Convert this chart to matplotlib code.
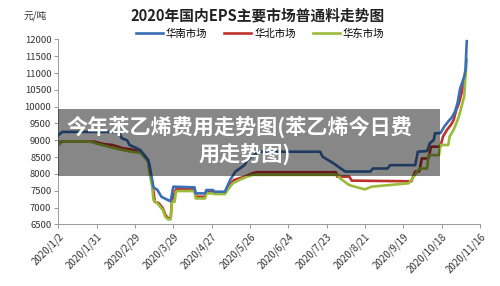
import matplotlib
matplotlib.use("Agg")
import matplotlib.pyplot as plt
import pandas as pd
from matplotlib.patches import Rectangle

plt.rcParams['font.family'] = ['Noto Sans CJK SC', 'DejaVu Sans']

# 华南市场 (date, 元/吨)
south_dates = ['2020-01-02', '2020-01-05', '2020-02-17', '2020-02-19', '2020-02-23', '2020-02-25',
               '2020-03-01', '2020-03-04', '2020-03-07', '2020-03-10', '2020-03-11', '2020-03-13',
               '2020-03-14', '2020-03-17', '2020-03-20', '2020-03-26', '2020-03-27', '2020-03-29',
               '2020-04-14', '2020-04-15', '2020-04-22', '2020-04-23', '2020-04-28', '2020-04-29',
               '2020-05-07', '2020-05-11', '2020-05-15', '2020-05-19', '2020-05-22', '2020-05-24',
               '2020-05-27', '2020-05-31', '2020-06-02', '2020-07-18', '2020-07-20', '2020-07-28',
               '2020-08-06', '2020-08-25', '2020-08-27', '2020-09-07', '2020-09-09', '2020-09-28',
               '2020-09-30', '2020-10-07', '2020-10-09', '2020-10-12', '2020-10-13', '2020-10-17',
               '2020-10-20', '2020-10-23', '2020-10-26', '2020-10-28', '2020-10-30', '2020-11-01',
               '2020-11-02', '2020-11-04', '2020-11-05', '2020-11-06']
south_vals = [9150, 9250, 9250, 9060, 9000, 8860,
              8770, 8710, 8560, 8410, 8260, 7820,
              7600, 7520, 7320, 7200, 7190, 7620,
              7600, 7420, 7420, 7520, 7520, 7470,
              7470, 7820, 8070, 8180, 8270, 8410,
              8510, 8610, 8660, 8660, 8510, 8320,
              8070, 8070, 8160, 8160, 8260, 8260,
              8660, 8680, 8910, 9010, 9210, 9210,
              9410, 9560, 9700, 9850, 10100, 10550,
              10650, 10890, 11090, 11950]

# 华北市场
north_dates = ['2020-01-02', '2020-01-04', '2020-01-29', '2020-02-05', '2020-02-12', '2020-02-20',
               '2020-02-26', '2020-03-04', '2020-03-07', '2020-03-10', '2020-03-11', '2020-03-13',
               '2020-03-14', '2020-03-15', '2020-03-18', '2020-03-21', '2020-03-23', '2020-03-25',
               '2020-03-27', '2020-03-28', '2020-03-31', '2020-04-14', '2020-04-15', '2020-04-22',
               '2020-04-23', '2020-04-28', '2020-04-29', '2020-05-07', '2020-05-10', '2020-05-14',
               '2020-05-22', '2020-05-28', '2020-05-31', '2020-07-30', '2020-07-31', '2020-08-09',
               '2020-08-11', '2020-09-25', '2020-09-28', '2020-10-01', '2020-10-03', '2020-10-08',
               '2020-10-10', '2020-10-17', '2020-10-19', '2020-10-22', '2020-10-25', '2020-10-27',
               '2020-10-29', '2020-10-31', '2020-11-02', '2020-11-04']
north_vals = [8900, 8960, 8960, 8890, 8860, 8760,
              8730, 8660, 8560, 8410, 8110, 7770,
              7470, 7170, 7130, 6980, 6780, 6680,
              6680, 7220, 7540, 7540, 7320, 7320,
              7470, 7470, 7420, 7420, 7670, 7820,
              7920, 8020, 8050, 8050, 7920, 7920,
              7800, 7780, 8070, 8070, 8460, 8460,
              8810, 8810, 9110, 9310, 9460, 9600,
              9900, 10100, 10400, 10750]

# 华东市场
east_dates = ['2020-01-02', '2020-01-05', '2020-01-26', '2020-02-01', '2020-02-09', '2020-02-14',
              '2020-02-20', '2020-02-26', '2020-03-04', '2020-03-07', '2020-03-10', '2020-03-11',
              '2020-03-13', '2020-03-14', '2020-03-17', '2020-03-21', '2020-03-23', '2020-03-25',
              '2020-03-27', '2020-03-28', '2020-03-30', '2020-03-31', '2020-04-01', '2020-04-14',
              '2020-04-15', '2020-04-22', '2020-04-23', '2020-04-28', '2020-04-29', '2020-05-07',
              '2020-05-10', '2020-05-13', '2020-05-18', '2020-05-24', '2020-05-28', '2020-06-01',
              '2020-08-01', '2020-08-02', '2020-08-09', '2020-08-15', '2020-08-21', '2020-08-26',
              '2020-09-09', '2020-09-23', '2020-09-27', '2020-10-01', '2020-10-07', '2020-10-08',
              '2020-10-16', '2020-10-17', '2020-10-23', '2020-10-24', '2020-10-27', '2020-10-29',
              '2020-10-31', '2020-11-02', '2020-11-04', '2020-11-05', '2020-11-06']
east_vals = [8850, 8960, 8960, 8890, 8810, 8760,
             8710, 8660, 8630, 8510, 8360, 8020,
             7620, 7220, 7120, 6930, 6720, 6650,
             6650, 7170, 7170, 7470, 7490, 7490,
             7270, 7270, 7420, 7420, 7400, 7400,
             7570, 7720, 7820, 7920, 7970, 7970,
             7970, 7870, 7670, 7600, 7540, 7620,
             7670, 7720, 7920, 8160, 8160, 8560,
             8560, 8860, 8860, 9110, 9310, 9500,
             9700, 10000, 10300, 10890, 11400]

tick_dates = ['2020/1/2', '2020/1/31', '2020/2/29', '2020/3/29', '2020/4/27', '2020/5/26',
              '2020/6/24', '2020/7/23', '2020/8/21', '2020/9/19', '2020/10/18', '2020/11/16']
y_ticks = [6500, 7000, 7500, 8000, 8500, 9000, 9500, 10000, 10500, 11000, 11500, 12000]

fig = plt.figure(figsize=(5.0, 2.86), dpi=100)
ax = fig.add_axes([0.1166, 0.2157, 0.8434, 0.6463])

ax.plot(pd.to_datetime(south_dates), south_vals, color='#3A6EB5', lw=1.9, label='华南市场', zorder=3)
ax.plot(pd.to_datetime(north_dates), north_vals, color='#C0302A', lw=1.9, label='华北市场', zorder=2)
ax.plot(pd.to_datetime(east_dates), east_vals, color='#9BBB3A', lw=1.9, label='华东市场', zorder=2)

ticks = pd.to_datetime(tick_dates, format='%Y/%m/%d')
ax.set_xticks(ticks)
ax.set_xticklabels(tick_dates, rotation=45, ha='right', rotation_mode='anchor', fontsize=7, color='#333333')
ax.set_xlim(ticks[0], ticks[-1])
ax.set_ylim(6500, 12000)
ax.set_yticks(y_ticks)
ax.set_yticklabels([str(v) for v in y_ticks], fontsize=6.8, color='#333333')
ax.tick_params(axis='both', length=3, width=0.6, color='#888888', pad=2)
for side in ['top', 'right']:
    ax.spines[side].set_visible(False)
for side in ['left', 'bottom']:
    ax.spines[side].set_color('#999999')
    ax.spines[side].set_linewidth(0.7)

fig.text(0.515, 0.945, '2020年国内EPS主要市场普通料走势图', ha='center', va='center',
         fontsize=10.6, fontweight='bold', color='#222222')
fig.text(0.07, 0.945, '元/吨', ha='center', va='center', fontsize=7, color='#333333')
fig.legend(loc='center', bbox_to_anchor=(0.52, 0.882), ncol=3, frameon=False, fontsize=7.5,
           handlelength=2.6, handletextpad=0.3, columnspacing=1.6)

# 灰色遮罩标题
fig.patches.append(Rectangle((0.116, 0.385), 0.764, 0.234, transform=fig.transFigure,
                             facecolor='#000000', alpha=0.47, edgecolor='none', zorder=10))
fig.text(0.478, 0.557, '今年苯乙烯费用走势图(苯乙烯今日费', ha='center', va='center',
         fontsize=15.2, fontweight='bold', color='white', zorder=11)
fig.text(0.49, 0.458, '用走势图)', ha='center', va='center',
         fontsize=15.2, fontweight='bold', color='white', zorder=11)

fig.savefig('out.png', dpi=100)
